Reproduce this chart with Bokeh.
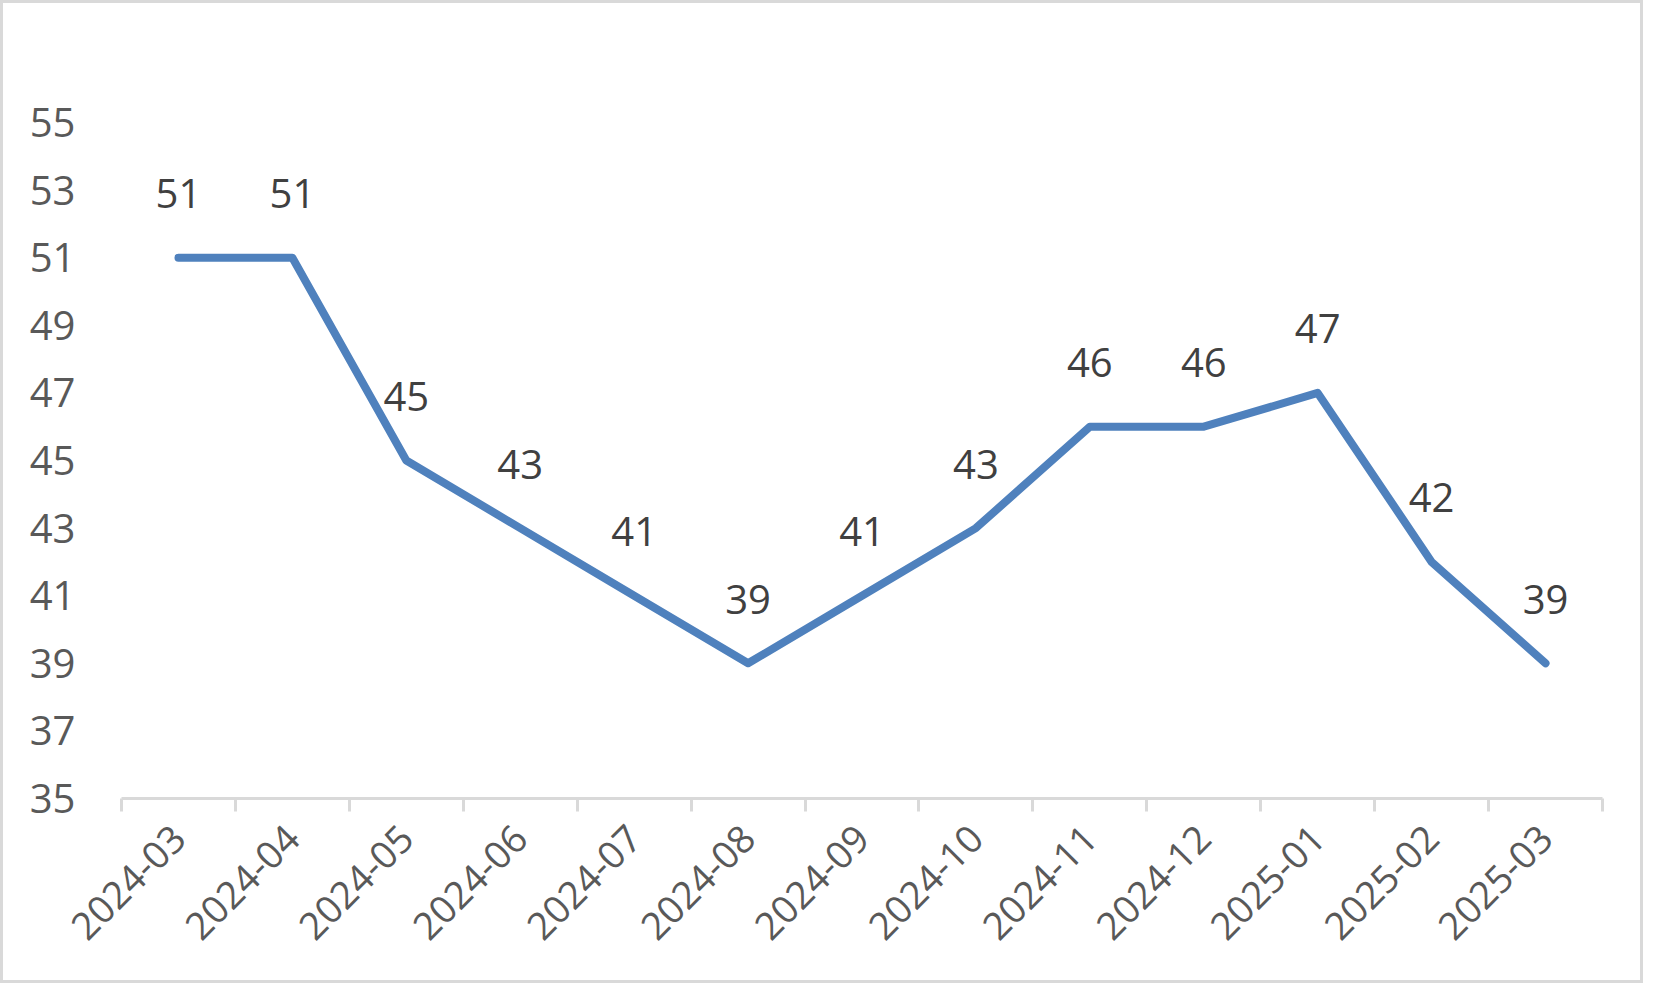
from bokeh.plotting import figure
from bokeh.models import FixedTicker, Range1d, ColumnDataSource
from bokeh.core.properties import value
from bokeh.embed import file_html
from bokeh.resources import INLINE
import math

categories = ["2024-03", "2024-04", "2024-05", "2024-06", "2024-07", "2024-08", "2024-09",
              "2024-10", "2024-11", "2024-12", "2025-01", "2025-02", "2025-03"]
values = [51, 51, 45, 43, 41, 39, 41, 43, 46, 46, 47, 42, 39]
y_ticks = [35, 37, 39, 41, 43, 45, 47, 49, 51, 53, 55]

FONT = "Open Sans"
n = len(categories)
xs = [i + 0.5 for i in range(n)]
src = ColumnDataSource(dict(x=xs, y=values, lbl=[str(v) for v in values]))

p = figure(width=1637, height=977, output_backend="svg", toolbar_location=None,
           x_range=Range1d(0, n), y_range=Range1d(35, 55),
           min_border_left=118, min_border_right=38, min_border_top=119, min_border_bottom=182)
p.frame_width = 1481
p.frame_height = 676
p.outline_line_color = None
p.grid.grid_line_color = None
p.background_fill_color = "white"
p.border_fill_color = "white"
p.styles = {"border": "3px solid #d9d9d9", "box-sizing": "border-box"}

p.line("x", "y", source=src, line_color="#4f81bd", line_width=8,
       line_cap="round", line_join="round")
p.text("x", "y", text="lbl", source=src, text_align="center", text_baseline="middle",
       y_offset=-64, text_font=value(FONT), text_font_size="40px", text_color="#404040")

# x axis
xa = p.xaxis[0]
xa.ticker = FixedTicker(ticks=xs, minor_ticks=list(range(n + 1)))
xa.major_label_overrides = {x: c for x, c in zip(xs, categories)}
xa.major_tick_out = 0
xa.major_tick_in = 0
xa.minor_tick_out = 13
xa.minor_tick_in = 0
xa.minor_tick_line_color = "#d9d9d9"
xa.minor_tick_line_width = 3
xa.axis_line_color = "#d9d9d9"
xa.axis_line_width = 3
xa.major_label_orientation = math.pi / 4
xa.major_label_text_font = FONT
xa.major_label_text_font_size = "38px"
xa.major_label_text_color = "#595959"
xa.major_label_standoff = 20

# y axis
ya = p.yaxis[0]
ya.ticker = FixedTicker(ticks=y_ticks)
ya.axis_line_color = None
ya.major_tick_line_color = None
ya.minor_tick_line_color = None
ya.major_label_standoff = 40
ya.major_label_text_font = FONT
ya.major_label_text_font_size = "40px"
ya.major_label_text_color = "#595959"

open("out.html", "w").write(file_html(p, INLINE))
